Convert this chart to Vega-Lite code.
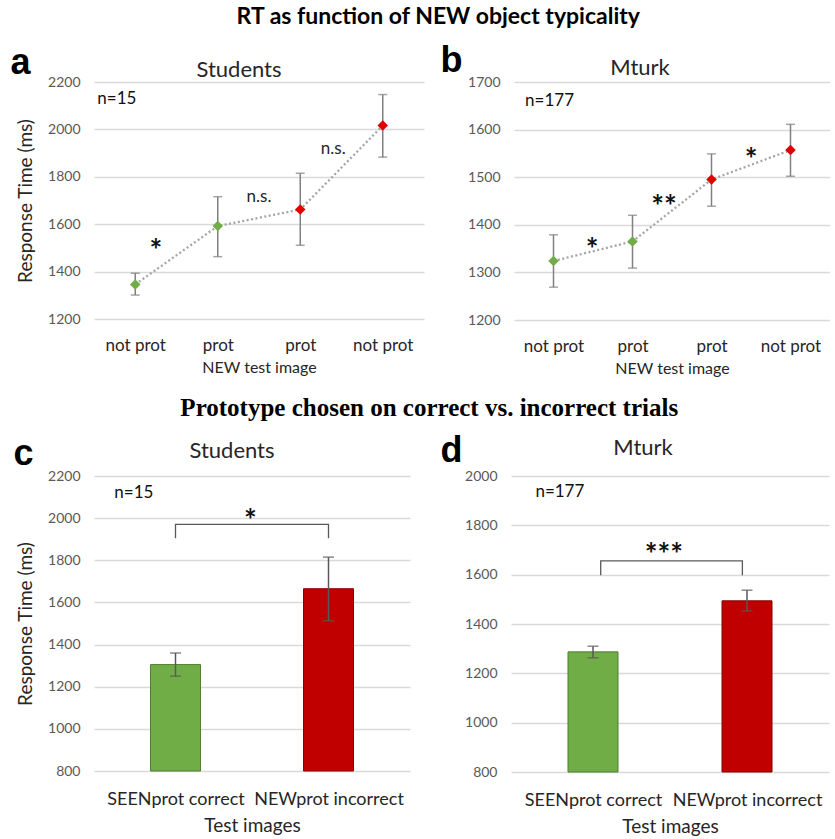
{
  "$schema": "https://vega.github.io/schema/vega-lite/v6.json",
  "background": "white",
  "padding": {"left": 10, "top": 6, "right": 0, "bottom": 0},
  "config": {
    "font": "Lato",
    "view": {"stroke": null},
    "axis": {"domain": false, "ticks": false, "labelColor": "#595959", "labelFontSize": 14, "labelFont": "Lato", "titleFont": "Lato", "titleColor": "#262626", "titleFontWeight": "normal", "gridColor": "#d9d9d9", "gridWidth": 1.3, "format": "d"},
    "axisX": {"grid": false, "labelColor": "#262626", "labelFontSize": 17, "titleFontSize": 16, "labelPadding": 18, "titlePadding": 6},
    "axisY": {"labelPadding": 14, "titlePadding": 12, "titleFontSize": 19},
    "title": {"color": "#262626"}
  },
  "datasets": {
    "students_line": [
      {"x": 1, "label": "not prot", "outcome": "correct", "rt": 1346, "lo": 1301, "hi": 1393},
      {"x": 2, "label": "prot", "outcome": "correct", "rt": 1592, "lo": 1463, "hi": 1716},
      {"x": 3, "label": "prot", "outcome": "incorrect", "rt": 1662, "lo": 1511, "hi": 1815},
      {"x": 4, "label": "not prot", "outcome": "incorrect", "rt": 2016, "lo": 1883, "hi": 2147}
    ],
    "mturk_line": [
      {"x": 1, "label": "not prot", "outcome": "correct", "rt": 1324, "lo": 1269, "hi": 1379},
      {"x": 2, "label": "prot", "outcome": "correct", "rt": 1365, "lo": 1309, "hi": 1420},
      {"x": 3, "label": "prot", "outcome": "incorrect", "rt": 1495, "lo": 1439, "hi": 1549},
      {"x": 4, "label": "not prot", "outcome": "incorrect", "rt": 1557, "lo": 1502, "hi": 1611}
    ],
    "students_notes": [
      {"x": 1.25, "y": 1511, "text": "*", "kind": "sig"},
      {"x": 2.5, "y": 1713, "text": "n.s.", "kind": "note"},
      {"x": 3.4, "y": 1917, "text": "n.s.", "kind": "note"},
      {"x": 0.54, "y": 2130, "text": "n=15", "kind": "n"}
    ],
    "mturk_notes": [
      {"x": 1.49, "y": 1360, "text": "*", "kind": "sig"},
      {"x": 2.4, "y": 1449, "text": "**", "kind": "sig"},
      {"x": 3.5, "y": 1549, "text": "*", "kind": "sig"},
      {"x": 0.64, "y": 1660, "text": "n=177", "kind": "n"}
    ],
    "students_bars": [
      {"x": 1, "cond": "SEENprot correct", "outcome": "correct", "rt": 1305, "lo": 1250, "hi": 1360},
      {"x": 2, "cond": "NEWprot incorrect", "outcome": "incorrect", "rt": 1665, "lo": 1513, "hi": 1815}
    ],
    "mturk_bars": [
      {"x": 1, "cond": "SEENprot correct", "outcome": "correct", "rt": 1287, "lo": 1263, "hi": 1310},
      {"x": 2, "cond": "NEWprot incorrect", "outcome": "incorrect", "rt": 1494, "lo": 1453, "hi": 1537}
    ],
    "students_bracket": [
      {"x": 1, "y": 1905, "order": 1}, {"x": 1, "y": 1970, "order": 2}, {"x": 2, "y": 1970, "order": 3}, {"x": 2, "y": 1905, "order": 4}
    ],
    "mturk_bracket": [
      {"x": 1.05, "y": 1598, "order": 1}, {"x": 1.05, "y": 1656, "order": 2}, {"x": 1.97, "y": 1656, "order": 3}, {"x": 1.97, "y": 1598, "order": 4}
    ],
    "students_bar_notes": [
      {"x": 1.49, "y": 2015, "text": "*", "kind": "sig"},
      {"x": 0.6, "y": 2119, "text": "n=15", "kind": "n"}
    ],
    "mturk_bar_notes": [
      {"x": 1.46, "y": 1705, "text": "***", "kind": "sig"},
      {"x": 0.626, "y": 1935, "text": "n=177", "kind": "n"}
    ]
  },
  "resolve": {"scale": {"color": "independent"}},
  "spacing": 20,
  "vconcat": [
    {
      "title": {"text": "RT as function of NEW object typicality", "font": "Lato", "fontSize": 23, "fontWeight": "bold", "color": "black", "anchor": "middle", "offset": 14, "dx": 18},
      "spacing": 16,
      "resolve": {"scale": {"color": "independent"}},
      "hconcat": [
        {
          "title": {"text": "a", "anchor": "start", "font": "Liberation Sans", "fontSize": 36, "fontWeight": "bold", "color": "black", "offset": -23, "dx": -6},
          "vconcat": [
            {
              "width": 330, "height": 237,
              "title": {"text": "Students", "fontSize": 22, "fontWeight": "normal", "offset": -7, "dx": -20},
              "layer": [
                {
                  "data": {"name": "students_line"},
                  "mark": {"type": "line", "color": "#a5a5a5", "strokeDash": [2, 2.5], "strokeWidth": 2.3},
                  "encoding": {
                    "x": {"field": "x", "type": "quantitative", "scale": {"domain": [0.5, 4.5], "nice": false}, "title": "NEW test image", "axis": {"values": [1, 2, 3, 4], "labelExpr": "datum.value == 2 || datum.value == 3 ? 'prot' : 'not prot'"}},
                    "y": {"field": "rt", "type": "quantitative", "scale": {"domain": [1200, 2200], "zero": false, "nice": false}, "title": "Response Time (ms)", "axis": {"values": [1200, 1400, 1600, 1800, 2000, 2200]}}
                  }
                },
                {
                  "data": {"name": "students_line"},
                  "mark": {"type": "errorbar", "ticks": {"size": 9, "color": "#808080"}, "rule": {"color": "#808080", "strokeWidth": 1.5}, "thickness": 1.5},
                  "encoding": {
                    "x": {"field": "x", "type": "quantitative", "title": "NEW test image"},
                    "y": {"field": "lo", "type": "quantitative", "title": "Response Time (ms)"},
                    "y2": {"field": "hi"}
                  }
                },
                {
                  "data": {"name": "students_line"},
                  "mark": {"type": "point", "shape": "diamond", "filled": true, "size": 110, "opacity": 1},
                  "encoding": {
                    "x": {"field": "x", "type": "quantitative", "title": "NEW test image"},
                    "y": {"field": "rt", "type": "quantitative", "title": "Response Time (ms)"},
                    "color": {"field": "outcome", "type": "nominal", "scale": {"domain": ["correct", "incorrect"], "range": ["#70ad47", "#e00000"]}, "legend": null}
                  }
                },
                {
                  "data": {"name": "students_notes"},
                  "transform": [{"filter": "datum.kind == 'sig'"}],
                  "mark": {"type": "text", "fontSize": 30, "fontWeight": "bold", "color": "#111111", "baseline": "middle", "dy": 7},
                  "encoding": {
                    "x": {"field": "x", "type": "quantitative", "title": "NEW test image"},
                    "y": {"field": "y", "type": "quantitative", "title": "Response Time (ms)"},
                    "text": {"field": "text"}
                  }
                },
                {
                  "data": {"name": "students_notes"},
                  "transform": [{"filter": "datum.kind == 'note'"}],
                  "mark": {"type": "text", "fontSize": 17, "color": "#262626", "baseline": "middle"},
                  "encoding": {
                    "x": {"field": "x", "type": "quantitative", "title": "NEW test image"},
                    "y": {"field": "y", "type": "quantitative", "title": "Response Time (ms)"},
                    "text": {"field": "text"}
                  }
                },
                {
                  "data": {"name": "students_notes"},
                  "transform": [{"filter": "datum.kind == 'n'"}],
                  "mark": {"type": "text", "fontSize": 17, "color": "#111111", "baseline": "middle", "align": "left"},
                  "encoding": {
                    "x": {"field": "x", "type": "quantitative", "title": "NEW test image"},
                    "y": {"field": "y", "type": "quantitative", "title": "Response Time (ms)"},
                    "text": {"field": "text"}
                  }
                }
              ]
            }
          ]
        },
        {
          "title": {"text": "b", "anchor": "start", "font": "Liberation Sans", "fontSize": 36, "fontWeight": "bold", "color": "black", "offset": -23, "dx": -27},
          "vconcat": [
            {
              "width": 316, "height": 238,
              "title": {"text": "Mturk", "fontSize": 22, "fontWeight": "normal", "offset": -5, "dx": -32},
              "layer": [
                {
                  "data": {"name": "mturk_line"},
                  "mark": {"type": "line", "color": "#a5a5a5", "strokeDash": [2, 2.5], "strokeWidth": 2.3},
                  "encoding": {
                    "x": {"field": "x", "type": "quantitative", "scale": {"domain": [0.5, 4.5], "nice": false}, "title": "NEW test image", "axis": {"values": [1, 2, 3, 4], "labelExpr": "datum.value == 2 || datum.value == 3 ? 'prot' : 'not prot'"}},
                    "y": {"field": "rt", "type": "quantitative", "scale": {"domain": [1200, 1700], "zero": false, "nice": false}, "title": null, "axis": {"values": [1200, 1300, 1400, 1500, 1600, 1700]}}
                  }
                },
                {
                  "data": {"name": "mturk_line"},
                  "mark": {"type": "errorbar", "ticks": {"size": 9, "color": "#808080"}, "rule": {"color": "#808080", "strokeWidth": 1.5}, "thickness": 1.5},
                  "encoding": {
                    "x": {"field": "x", "type": "quantitative", "title": "NEW test image"},
                    "y": {"field": "lo", "type": "quantitative", "title": null},
                    "y2": {"field": "hi"}
                  }
                },
                {
                  "data": {"name": "mturk_line"},
                  "mark": {"type": "point", "shape": "diamond", "filled": true, "size": 110, "opacity": 1},
                  "encoding": {
                    "x": {"field": "x", "type": "quantitative", "title": "NEW test image"},
                    "y": {"field": "rt", "type": "quantitative", "title": null},
                    "color": {"field": "outcome", "type": "nominal", "scale": {"domain": ["correct", "incorrect"], "range": ["#70ad47", "#e00000"]}, "legend": null}
                  }
                },
                {
                  "data": {"name": "mturk_notes"},
                  "transform": [{"filter": "datum.kind == 'sig'"}],
                  "mark": {"type": "text", "fontSize": 30, "fontWeight": "bold", "color": "#111111", "baseline": "middle", "dy": 7},
                  "encoding": {
                    "x": {"field": "x", "type": "quantitative", "title": "NEW test image"},
                    "y": {"field": "y", "type": "quantitative", "title": null},
                    "text": {"field": "text"}
                  }
                },
                {
                  "data": {"name": "mturk_notes"},
                  "transform": [{"filter": "datum.kind == 'n'"}],
                  "mark": {"type": "text", "fontSize": 17, "color": "#111111", "baseline": "middle", "align": "left"},
                  "encoding": {
                    "x": {"field": "x", "type": "quantitative", "title": "NEW test image"},
                    "y": {"field": "y", "type": "quantitative", "title": null},
                    "text": {"field": "text"}
                  }
                }
              ]
            }
          ]
        }
      ]
    },
    {
      "title": {"text": "Prototype chosen on correct vs. incorrect trials", "font": "Liberation Serif", "fontSize": 25, "fontWeight": "bold", "color": "black", "anchor": "middle", "offset": 12, "dx": 8},
      "spacing": 30,
      "resolve": {"scale": {"color": "independent"}},
      "hconcat": [
        {
          "title": {"text": "c", "anchor": "start", "font": "Liberation Sans", "fontSize": 36, "fontWeight": "bold", "color": "black", "offset": -33, "dx": -3},
          "vconcat": [
            {
              "width": 316, "height": 295,
              "title": {"text": "Students", "fontSize": 22, "fontWeight": "normal", "offset": 6, "dx": -20},
              "layer": [
                {
                  "data": {"name": "students_bars"},
                  "mark": {"type": "bar", "size": 50, "strokeWidth": 1},
                  "encoding": {
                    "x": {"field": "x", "type": "quantitative", "scale": {"domain": [0.5, 2.5], "nice": false}, "title": "Test images", "axis": {"values": [1, 2], "labelExpr": "datum.value == 1 ? 'SEENprot correct' : 'NEWprot incorrect'", "labelFontSize": 18, "titleFontSize": 19, "labelPadding": 19, "titlePadding": 8}},
                    "y": {"field": "rt", "type": "quantitative", "scale": {"domain": [800, 2200], "zero": false, "nice": false}, "title": "Response Time (ms)", "axis": {"values": [800, 1000, 1200, 1400, 1600, 1800, 2000, 2200]}},
                    "y2": {"datum": 800},
                    "color": {"field": "outcome", "type": "nominal", "scale": {"domain": ["correct", "incorrect"], "range": ["#70ad47", "#c00000"]}, "legend": null},
                    "stroke": {"field": "outcome", "type": "nominal", "scale": {"domain": ["correct", "incorrect"], "range": ["#4f7f30", "#8a0000"]}, "legend": null}
                  }
                },
                {
                  "data": {"name": "students_bars"},
                  "mark": {"type": "errorbar", "ticks": {"size": 11, "color": "#595959"}, "rule": {"color": "#595959", "strokeWidth": 1.5}, "thickness": 1.5},
                  "encoding": {
                    "x": {"field": "x", "type": "quantitative", "title": "Test images"},
                    "y": {"field": "lo", "type": "quantitative", "title": "Response Time (ms)"},
                    "y2": {"field": "hi"}
                  }
                },
                {
                  "data": {"name": "students_bracket"},
                  "mark": {"type": "line", "color": "#595959", "strokeWidth": 1.3},
                  "encoding": {
                    "x": {"field": "x", "type": "quantitative", "title": "Test images"},
                    "y": {"field": "y", "type": "quantitative", "title": "Response Time (ms)"},
                    "order": {"field": "order"}
                  }
                },
                {
                  "data": {"name": "students_bar_notes"},
                  "transform": [{"filter": "datum.kind == 'sig'"}],
                  "mark": {"type": "text", "fontSize": 30, "fontWeight": "bold", "color": "#111111", "baseline": "middle", "dy": 7},
                  "encoding": {
                    "x": {"field": "x", "type": "quantitative", "title": "Test images"},
                    "y": {"field": "y", "type": "quantitative", "title": "Response Time (ms)"},
                    "text": {"field": "text"}
                  }
                },
                {
                  "data": {"name": "students_bar_notes"},
                  "transform": [{"filter": "datum.kind == 'n'"}],
                  "mark": {"type": "text", "fontSize": 17, "color": "#111111", "baseline": "middle", "align": "left"},
                  "encoding": {
                    "x": {"field": "x", "type": "quantitative", "title": "Test images"},
                    "y": {"field": "y", "type": "quantitative", "title": "Response Time (ms)"},
                    "text": {"field": "text"}
                  }
                }
              ]
            }
          ]
        },
        {
          "title": {"text": "d", "anchor": "start", "font": "Liberation Sans", "fontSize": 36, "fontWeight": "bold", "color": "black", "offset": -33, "dx": -24},
          "vconcat": [
            {
              "width": 318, "height": 296,
              "title": {"text": "Mturk", "fontSize": 22, "fontWeight": "normal", "offset": 9, "dx": -27},
              "layer": [
                {
                  "data": {"name": "mturk_bars"},
                  "mark": {"type": "bar", "size": 50, "strokeWidth": 1},
                  "encoding": {
                    "x": {"field": "x", "type": "quantitative", "scale": {"domain": [0.5, 2.5], "nice": false}, "title": "Test images", "axis": {"values": [1, 2], "labelExpr": "datum.value == 1 ? 'SEENprot correct' : 'NEWprot incorrect'", "labelFontSize": 18, "titleFontSize": 19, "labelPadding": 19, "titlePadding": 8}},
                    "y": {"field": "rt", "type": "quantitative", "scale": {"domain": [800, 2000], "zero": false, "nice": false}, "title": null, "axis": {"values": [800, 1000, 1200, 1400, 1600, 1800, 2000]}},
                    "y2": {"datum": 800},
                    "color": {"field": "outcome", "type": "nominal", "scale": {"domain": ["correct", "incorrect"], "range": ["#70ad47", "#c00000"]}, "legend": null},
                    "stroke": {"field": "outcome", "type": "nominal", "scale": {"domain": ["correct", "incorrect"], "range": ["#4f7f30", "#8a0000"]}, "legend": null}
                  }
                },
                {
                  "data": {"name": "mturk_bars"},
                  "mark": {"type": "errorbar", "ticks": {"size": 11, "color": "#595959"}, "rule": {"color": "#595959", "strokeWidth": 1.5}, "thickness": 1.5},
                  "encoding": {
                    "x": {"field": "x", "type": "quantitative", "title": "Test images"},
                    "y": {"field": "lo", "type": "quantitative", "title": null},
                    "y2": {"field": "hi"}
                  }
                },
                {
                  "data": {"name": "mturk_bracket"},
                  "mark": {"type": "line", "color": "#595959", "strokeWidth": 1.3},
                  "encoding": {
                    "x": {"field": "x", "type": "quantitative", "title": "Test images"},
                    "y": {"field": "y", "type": "quantitative", "title": null},
                    "order": {"field": "order"}
                  }
                },
                {
                  "data": {"name": "mturk_bar_notes"},
                  "transform": [{"filter": "datum.kind == 'sig'"}],
                  "mark": {"type": "text", "fontSize": 30, "fontWeight": "bold", "color": "#111111", "baseline": "middle", "dy": 7},
                  "encoding": {
                    "x": {"field": "x", "type": "quantitative", "title": "Test images"},
                    "y": {"field": "y", "type": "quantitative", "title": null},
                    "text": {"field": "text"}
                  }
                },
                {
                  "data": {"name": "mturk_bar_notes"},
                  "transform": [{"filter": "datum.kind == 'n'"}],
                  "mark": {"type": "text", "fontSize": 17, "color": "#111111", "baseline": "middle", "align": "left"},
                  "encoding": {
                    "x": {"field": "x", "type": "quantitative", "title": "Test images"},
                    "y": {"field": "y", "type": "quantitative", "title": null},
                    "text": {"field": "text"}
                  }
                }
              ]
            }
          ]
        }
      ]
    }
  ]
}
